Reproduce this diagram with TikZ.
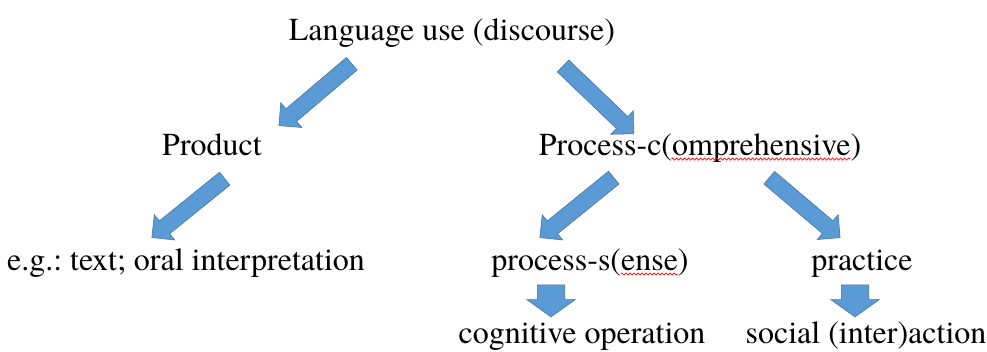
\documentclass[tikz,border=0pt]{standalone}
\usepackage{fontspec}
\setmainfont{texgyretermes-regular.otf}
\newfontfamily\diagramfont{texgyretermes-regular.otf}
\usetikzlibrary{positioning, calc, shapes.arrows, decorations.pathmorphing}
\definecolor{arrowblue}{HTML}{5B9BD5}
\definecolor{arrowline}{HTML}{41719C}
\frenchspacing
\tikzset{x=0.75pt, y=-0.75pt,
    label text/.style={anchor=base, inner sep=0pt, font=\diagramfont\fontsize{24}{28}\selectfont},
    block arrow/.style={single arrow, fill=arrowblue, draw=arrowline, line width=0.4pt,
        inner xsep=0pt, outer sep=0pt, sloped, allow upside down},
    big arrow/.style={block arrow, inner ysep=6pt, single arrow head extend=6pt,
        single arrow tip angle=90},
    small arrow/.style={block arrow, inner ysep=10.1pt, single arrow head extend=7.9pt,
        single arrow tip angle=109},
    spell wave/.style={red, line width=0.5pt, decorate,
        decoration={snake, amplitude=0.8pt, segment length=3pt}}}

\begin{document}
\begin{tikzpicture}
    \useasboundingbox (0,0) rectangle (987,351);
    \node[label text] (lang) at (452,40) {Language use (discourse)};
    \node[label text] (product) at (212,155) {Product};
    \node[label text] (procc) at (700,155) {Process-c(omprehensive)};
    \node[label text] (example) at (186,270) {e.g.: text; oral interpretation};
    \node[label text] (procs) at (590,270) {process-s(ense)};
    \node[label text] (practice) at (862,270) {practice};
    \node[label text] (cognitive) at (582,343) {cognitive operation};
    \node[label text] (social) at (866,343) {social (inter)action};

    % spell check marks
    \draw[spell wave] ($(procc.base east)+(-190,4)$) -- ($(procc.base east)+(-11,4)$);
    \draw[spell wave] ($(procs.base east)+(-68,4)$) -- ($(procs.base east)+(-11,4)$);

    % ends of the block arrows
    \coordinate (lang-out-l) at (355,61);
    \coordinate (product-in) at (282,123);
    \coordinate (lang-out-r) at (560,63);
    \coordinate (procc-in) at (631,131);
    \coordinate (product-out) at (228,176);
    \coordinate (example-in) at (155,235);
    \coordinate (procc-out-l) at (617,175);
    \coordinate (procs-in) at (543,235);
    \coordinate (procc-out-r) at (766,175);
    \coordinate (practice-in) at (837,235);
    \coordinate (procs-out) at (551,280);
    \coordinate (cognitive-in) at (551,312);
    \coordinate (practice-out) at (855,280);
    \coordinate (social-in) at (855,312);

    \path let \p1=($(product-in)-(lang-out-l)$), \n1={veclen(\x1,\y1)} in
        (lang-out-l) -- node[big arrow, minimum height=\n1] {} (product-in);
    \path let \p1=($(procc-in)-(lang-out-r)$), \n1={veclen(\x1,\y1)} in
        (lang-out-r) -- node[big arrow, minimum height=\n1] {} (procc-in);
    \path let \p1=($(example-in)-(product-out)$), \n1={veclen(\x1,\y1)} in
        (product-out) -- node[big arrow, minimum height=\n1] {} (example-in);
    \path let \p1=($(procs-in)-(procc-out-l)$), \n1={veclen(\x1,\y1)} in
        (procc-out-l) -- node[big arrow, minimum height=\n1] {} (procs-in);
    \path let \p1=($(practice-in)-(procc-out-r)$), \n1={veclen(\x1,\y1)} in
        (procc-out-r) -- node[big arrow, minimum height=\n1] {} (practice-in);
    \path let \p1=($(cognitive-in)-(procs-out)$), \n1={veclen(\x1,\y1)} in
        (procs-out) -- node[small arrow, minimum height=\n1] {} (cognitive-in);
    \path let \p1=($(social-in)-(practice-out)$), \n1={veclen(\x1,\y1)} in
        (practice-out) -- node[small arrow, minimum height=\n1] {} (social-in);
\end{tikzpicture}
\end{document}
